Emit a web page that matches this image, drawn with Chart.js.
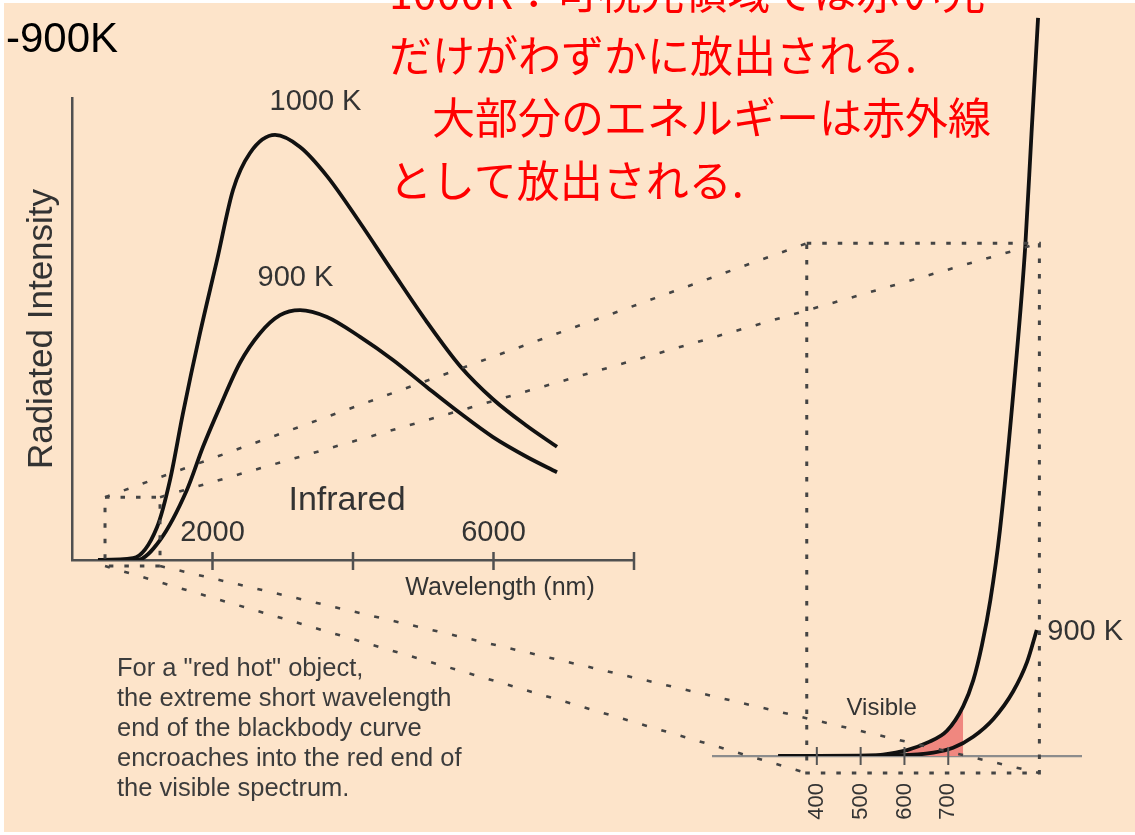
<!DOCTYPE html>
<html lang="ja">
<head>
<meta charset="utf-8">
<title>Blackbody curves 900 K / 1000 K</title>
<script src="https://cdn.jsdelivr.net/npm/chart.js@4.4.1/dist/chart.umd.min.js"></script>
<style>
  html, body { margin: 0; padding: 0; background: #fff; width: 1135px; height: 835px; overflow: hidden; }
  #paper { position: absolute; left: 4px; top: 3px; width: 1131px; height: 829px; background: #fde4ca; }
  canvas { position: absolute; left: 0; top: 0; }
  .note { position: absolute; font-family: "Liberation Sans", Arial, sans-serif; white-space: pre; }
  #title { left: 6px; top: 17px; font-size: 42px; line-height: 42px; color: #000; }
  #jp { left: 389px; top: -41px; font-family: "Noto Sans CJK JP", sans-serif; font-size: 43px; line-height: 62.5px; color: #f00; }
  #caption { left: 117px; top: 652px; font-size: 25.5px; line-height: 30px; color: #3c3c3c; }
</style>
</head>
<body>
<div id="paper"></div>
<canvas id="left" width="1135" height="835"></canvas>
<canvas id="right" width="1135" height="835"></canvas>
<div class="note" id="title">-900K</div>
<div class="note" id="jp">1000K：可視光領域では赤い光
だけがわずかに放出される.
　大部分のエネルギーは赤外線
として放出される.</div>
<div class="note" id="caption">For a "red hot" object,
the extreme short wavelength
end of the blackbody curve
encroaches into the red end of
the visible spectrum.</div>
<script>
// left panel: whole curve, wavelength (nm) vs intensity (arbitrary units)
const leftWave1000 = [370, 868, 1210, 1395, 1580, 1822, 2064, 2292, 2534, 2890, 3246, 3630, 4100, 4569, 5053, 5523, 5993, 6477, 6904]
const leftInt1000 = [0, 0.4, 7.1, 17.3, 31.8, 49.1, 64.9, 80.1, 88.1, 92.0, 89.4, 83.1, 73.0, 62.3, 51.5, 42.0, 34.8, 29.0, 24.5]
const leftWave900 = [370, 925, 1253, 1637, 1865, 2107, 2391, 2676, 2961, 3246, 3630, 4100, 4569, 5053, 5523, 5993, 6477, 6904]
const leftInt900 = [0, 0, 4.3, 15.2, 24.5, 33.2, 42.7, 49.1, 53.0, 54.1, 52.6, 48.3, 43.3, 37.4, 31.8, 26.6, 22.3, 19.0]
const leftTicks = [2000, 4000, 6000, 8000]
const leftTickLabels = ["2000", "", "6000", ""]

// right panel: zoom on the short wavelength end
const rightWave1000 = [312, 476, 551, 606, 652, 697, 734, 757, 777, 796, 818, 853, 876, 890, 905]
const rightInt1000 = [0, 0, 0.2, 0.8, 1.8, 3.4, 6.7, 10.2, 15.0, 21.0, 30.5, 52.0, 69.0, 84.0, 99.6]
const rightWave900 = [312, 590, 666, 711, 757, 803, 848, 880, 902]
const rightInt900 = [0, 0.1, 0.45, 1.1, 2.6, 5.0, 8.7, 12.7, 17.0]
const visibleWave = [606, 652, 697, 734]
const visibleInt = [0.8, 1.8, 3.4, 6.7]
const rightTicks = [400, 500, 600, 700]
const rightTickLabels = ["400", "500", "600", "700"]

const FONT = '"Liberation Sans", Arial, sans-serif'
Chart.defaults.font.family = FONT
Chart.defaults.color = "#333"

const pts = (xs, ys) => xs.map((x, i) => ({ x: x, y: ys[i] }))

const curve = (data) => ({
  data: data,
  borderColor: "#111",
  borderWidth: 3.8,
  pointRadius: 0,
  fill: false,
  cubicInterpolationMode: "monotone",
})

// tick marks that cross the axis line (chart.js only draws them outward)
const crossTicks = (o) => ({
  id: "crossTicks",
  afterDraw(chart) {
    const { ctx } = chart
    const sx = chart.scales.x
    ctx.save()
    ctx.strokeStyle = o.color
    ctx.lineWidth = o.width
    sx.ticks.forEach(t => {
      const px = sx.getPixelForValue(t.value)
      ctx.beginPath()
      ctx.moveTo(px, sx.top - o.up)
      ctx.lineTo(px, sx.top + o.down)
      ctx.stroke()
    })
    ctx.restore()
  }
})

// text labels placed in data coordinates
const notes = (items) => ({
  id: "notes",
  afterDatasetsDraw(chart) {
    const { ctx, scales: { x, y } } = chart
    ctx.save()
    ctx.fillStyle = "#333"
    ctx.textBaseline = "middle"
    items.forEach(n => {
      ctx.font = n.size + "px " + FONT
      ctx.textAlign = n.align || "center"
      ctx.fillText(n.text, x.getPixelForValue(n.x), y.getPixelForValue(n.y))
    })
    ctx.restore()
  }
})

const leftNotes = [
  { text: "1000 K", x: 3466, y: 99.1, size: 29 },
  { text: "900 K", x: 3181, y: 61.0, size: 29 },
  { text: "Infrared", x: 3915, y: 12.9, size: 34 },
  { text: "Wavelength (nm)", x: 6093, y: -6.1, size: 25 },
]
const rightNotes = [
  { text: "Visible", x: 548, y: 6.4, size: 24 },
  { text: "900 K", x: 926, y: 16.8, size: 29, align: "left" },
]

const leftChart = new Chart(document.getElementById("left"), {
  type: "line",
  data: {
    datasets: [
      curve(pts(leftWave1000, leftInt1000)),
      curve(pts(leftWave900, leftInt900)),
    ]
  },
  options: {
    responsive: false,
    animation: false,
    events: [],
    layout: { padding: { left: 0, top: 98, right: 501, bottom: 235 } },
    plugins: { legend: { display: false }, tooltip: { enabled: false } },
    scales: {
      x: {
        type: "linear",
        min: 0,
        max: 8000,
        afterBuildTicks: s => { s.ticks = leftTicks.map(v => ({ value: v })) },
        afterFit: s => { s.height = 40 },
        grid: { display: false, drawTicks: false },
        border: { color: "#505050", width: 2.5 },
        ticks: {
          // labels sit above the axis line in the original
          mirror: true,
          padding: 10,
          maxRotation: 0,
          autoSkip: false,
          color: "#333",
          font: { size: 29 },
          callback: (v, i) => leftTickLabels[i],
        },
      },
      y: {
        min: 0,
        max: 100,
        afterFit: s => { s.width = 72 },
        grid: { display: false, drawTicks: false },
        border: { color: "#505050", width: 2.5 },
        ticks: { display: false },
        title: {
          display: true,
          text: "Radiated Intensity",
          color: "#333",
          font: { size: 35 },
          padding: { top: 21, bottom: 0 },
        },
      },
    },
  },
  plugins: [crossTicks({ up: 8, down: 10, color: "#505050", width: 2.5 }), notes(leftNotes)],
})

// dotted box on the left panel and the box it is blown up into on the right
const zoomFrom = { x0: 470, x1: 1253, y0: -1.3, y1: 13.6 }
const zoomTo = { x0: 377, x1: 908, y0: -2.3, y1: 69.2 }

const zoomLines = {
  id: "zoomLines",
  afterDraw(chart) {
    const { ctx } = chart
    const box = (c, b) => ({
      l: c.scales.x.getPixelForValue(b.x0),
      r: c.scales.x.getPixelForValue(b.x1),
      t: c.scales.y.getPixelForValue(b.y1),
      b: c.scales.y.getPixelForValue(b.y0),
    })
    const a = box(leftChart, zoomFrom)
    const z = box(chart, zoomTo)
    ctx.save()
    ctx.strokeStyle = "#444"
    ctx.lineWidth = 3
    ctx.setLineDash([4.5, 11])
    ctx.strokeRect(a.l, a.t, a.r - a.l, a.b - a.t)
    ctx.strokeRect(z.l, z.t, z.r - z.l, z.b - z.t)
    const seg = (x1, y1, x2, y2) => {
      ctx.beginPath()
      ctx.moveTo(x1, y1)
      ctx.lineTo(x2, y2)
      ctx.stroke()
    }
    ctx.lineWidth = 2.6
    ctx.setLineDash([5, 15])
    seg(a.l, a.t, z.l, z.t)
    seg(a.r, a.t, z.r, z.t)
    seg(a.l, a.b, z.l, z.b)
    seg(a.r, a.b, z.r, z.b)
    ctx.restore()
  }
}

const rightChart = new Chart(document.getElementById("right"), {
  type: "line",
  data: {
    datasets: [
      curve(pts(rightWave1000, rightInt1000)),
      curve(pts(rightWave900, rightInt900)),
      {
        data: pts(visibleWave, visibleInt),
        borderWidth: 0,
        pointRadius: 0,
        backgroundColor: "#f0877f",
        fill: "origin",
        cubicInterpolationMode: "monotone",
        order: 5,
      },
    ]
  },
  options: {
    responsive: false,
    animation: false,
    events: [],
    layout: { padding: { left: 713, right: 54, top: 15, bottom: 0 } },
    plugins: { legend: { display: false }, tooltip: { enabled: false } },
    scales: {
      x: {
        type: "linear",
        min: 163,
        max: 1003,
        afterBuildTicks: s => { s.ticks = rightTicks.map(v => ({ value: v })) },
        afterFit: s => { s.height = 79 },
        grid: { display: false, drawTicks: false },
        border: { color: "#8c8c8c", width: 2.2 },
        ticks: {
          minRotation: 90,
          maxRotation: 90,
          autoSkip: false,
          padding: 27,
          color: "#333",
          font: { size: 22 },
          callback: (v, i) => rightTickLabels[i],
        },
      },
      y: { display: false, min: 0, max: 100 },
    },
  },
  plugins: [crossTicks({ up: 9, down: 9, color: "#555", width: 2 }), notes(rightNotes), zoomLines],
})
</script>
</body>
</html>
